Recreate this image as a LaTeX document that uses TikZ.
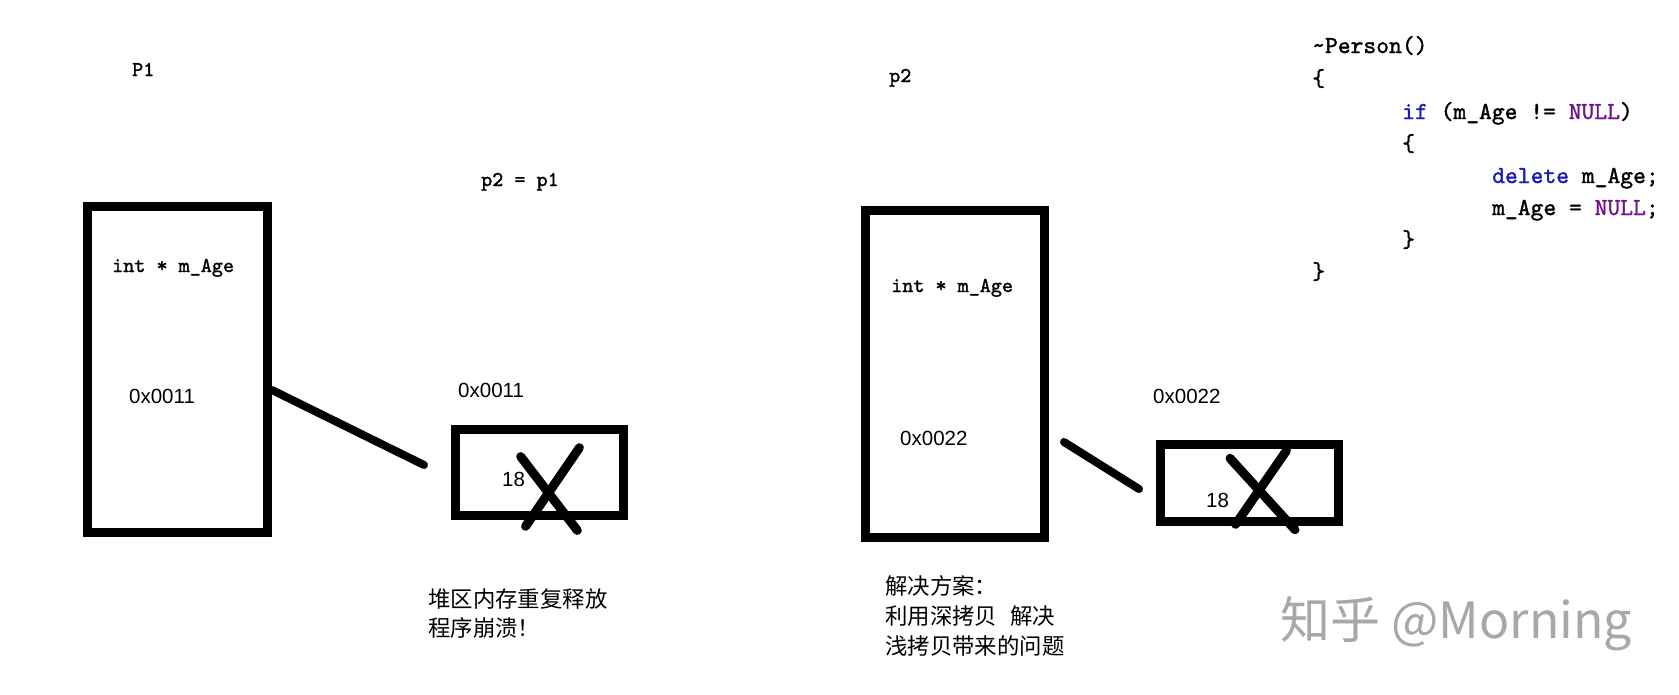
\documentclass[tikz,border=0pt]{standalone}
\usepackage{fontspec}
\newfontfamily\cjk{Noto Sans CJK SC}
\newfontfamily\numf{Liberation Sans}
\newfontfamily\codef[FakeBold=1.5]{lmmono10-regular.otf}
\definecolor{kw}{RGB}{28,28,178}
\definecolor{mac}{RGB}{112,20,135}
\definecolor{wm}{RGB}{168,168,168}
\tikzset{
  memb/.style={draw=black, line width=9pt, rectangle, inner sep=0pt},
  link/.style={line width=8pt, line cap=round},
  xmark/.style={line width=9pt, line cap=round},
  txt/.style={inner sep=0pt, anchor=base west},
  lab/.style={txt, font=\codef\fontsize{21.1pt}{24pt}\selectfont},
  code/.style={txt, font=\codef\fontsize{24.4pt}{28pt}\selectfont},
  addr/.style={txt, font=\numf\fontsize{20.5pt}{23pt}\selectfont},
  zh/.style={txt, font=\cjk\fontsize{22.4pt}{26pt}\selectfont},
}
\begin{document}
\begin{tikzpicture}[x=1pt,y=-1pt]
\fill[white] (0,0) rectangle (1679,694);
\useasboundingbox (0,0) rectangle (1679,694);

% memory boxes
\node[memb, minimum width=180pt, minimum height=326pt] (bigL) at (177.5,369.5) {};
\node[memb, minimum width=168pt, minimum height=86pt] (heapL) at (539.5,472.5) {};
\node[memb, minimum width=179pt, minimum height=327pt] (bigR) at (955,374) {};
\node[memb, minimum width=178pt, minimum height=77pt] (heapR) at (1249.5,483) {};

% labels
\node[lab] (p1) at (132,76) {P1};
\node[lab] (assign) at (481,186) {p2 = p1};
\node[lab] (p2) at (889,82) {p2};
\node[lab] (fieldL) at (112,272) {int * m\_Age};
\node[lab] (fieldR) at (891,292) {int * m\_Age};
\node[addr] (addrL) at (129,403) {0x0011};
\node[addr] (heapaddrL) at (458,397) {0x0011};
\node[addr] (addrR) at (900,445) {0x0022};
\node[addr] (heapaddrR) at (1153,403) {0x0022};
\node[addr] (valL) at (502,486) {18};
\node[addr] (valR) at (1206,507) {18};

% notes
\node[zh] (noteL1) at (428,607) {堆区内存重复释放};
\node[zh] (noteL2) at (428,636) {程序崩溃！};
\node[zh] (noteR1) at (885,594) {解决方案：};
\node[zh] (noteR2) at (885,624) {利用深拷贝\hspace{13pt}解决};
\node[zh] (noteR3) at (885,654) {浅拷贝带来的问题};

% code
\node[code] (c1) at (1312,53) {\textasciitilde Person()};
\node[code] (c2) at (1312,86) {\{};
\node[code] (c3) at (1402,119) {\textcolor{kw}{if} (m\_Age != \textcolor{mac}{NULL})};
\node[code] (c4) at (1402,151) {\{};
\node[code] (c5) at (1492,183) {\textcolor{kw}{delete} m\_Age;};
\node[code] (c6) at (1492,215) {m\_Age = \textcolor{mac}{NULL};};
\node[code] (c7) at (1402,247) {\}};
\node[code] (c8) at (1312,279) {\}};

% connectors
\path (bigL.east) ++(0,20.5) coordinate (l1a);
\coordinate (l1b) at (424,465);
\draw[link] (l1a) -- (l1b);
\coordinate (l2a) at (1064,442);
\coordinate (l2b) at (1139,489);
\draw[link] (l2a) -- (l2b);

% crosses
\draw[xmark] (520.7,456.6) -- (577.3,530.4);
\draw[xmark] (579.4,447.7) -- (525.6,526.3);
\draw[xmark] (1230,458.3) -- (1295,529.7);
\draw[xmark] (1286.4,450.7) -- (1235.6,524.3);

% watermark
\node[txt, text=wm, font=\cjk\fontsize{50pt}{56pt}\selectfont] (mark) at (1280,638) {知乎 @Morning};
\end{tikzpicture}
\end{document}
